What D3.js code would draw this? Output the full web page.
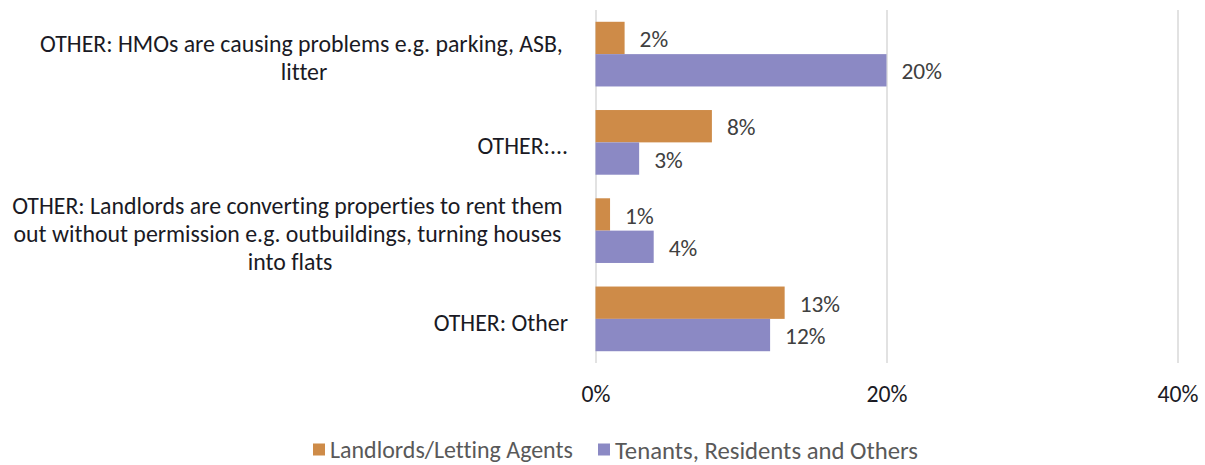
<!DOCTYPE html>
<html>
<head>
<meta charset="utf-8">
<script src="https://cdn.jsdelivr.net/npm/d3@7"></script>
<style>
  html, body { margin: 0; padding: 0; background: #ffffff; }
  svg { display: block; }
  text { font-family: Carlito, Calibri, Lato, "Open Sans", sans-serif; font-variant-ligatures: none; font-kerning: normal; }
</style>
</head>
<body>
<svg id="chart" width="1205" height="465"></svg>
<script>
// ---- data ----
const categories = [
  "OTHER: HMOs are causing problems e.g. parking, ASB, litter",
  "OTHER:...",
  "OTHER: Landlords are converting properties to rent them out without permission e.g. outbuildings, turning houses into flats",
  "OTHER: Other"
];
const categoryLines = [
  ["OTHER: HMOs are causing problems e.g. parking, ASB,", "litter"],
  ["OTHER:..."],
  ["OTHER: Landlords are converting properties to rent them", "out without permission e.g. outbuildings, turning houses", "into flats"],
  ["OTHER: Other"]
];
const seriesNames = ["Landlords/Letting Agents", "Tenants, Residents and Others"];
const landlords = [2, 8, 1, 13];
const tenants = [20, 3, 4, 12];
const xTicks = [0, 20, 40];
const colors = ["#CE8B48", "#8B89C4"];

// ---- layout ----
const svg = d3.select("#chart");
const plot = { left: 595.5, right: 1177.5, top: 10, bottom: 363 };

const x = d3.scaleLinear().domain([0, 40]).range([plot.left, plot.right]);
const y = d3.scaleBand().domain(categories).range([plot.top, plot.bottom])
  .paddingInner(0.267).paddingOuter(0.1335);
const ySub = d3.scaleBand().domain([0, 1]).range([0, y.bandwidth()]);

function measure(str, size) {
  const t = svg.append("text").attr("font-size", size).text(str);
  const w = t.node().getComputedTextLength();
  t.remove();
  return w;
}
function fitSize(str, target) {
  return 100 * target / measure(str, 100);
}
const catSize = fitSize(categoryLines[0][0], 523);
const dataSize = fitSize("20%", 40.4);
const axisSize = fitSize("20%", 41);
const legendSizes = [fitSize(seriesNames[0], 243), fitSize(seriesNames[1], 303)];

// gridlines
const grid = svg.append("g")
  .attr("transform", `translate(0,${plot.bottom})`)
  .call(d3.axisBottom(x).tickValues(xTicks).tickSize(-(plot.bottom - plot.top)).tickFormat(""));
grid.select(".domain").remove();
grid.selectAll("line").attr("stroke", "#D9D9D9").attr("stroke-width", 1.5);

// axis labels
const axis = svg.append("g")
  .attr("transform", `translate(0,${plot.bottom})`)
  .call(d3.axisBottom(x).tickValues(xTicks).tickSize(0).tickPadding(0).tickFormat(d => d + "%"));
axis.select(".domain").remove();
axis.selectAll("text")
  .attr("font-size", axisSize)
  .attr("fill", "#1A1A24")
  .attr("y", 31)
  .attr("dy", "0.35em")
  .style("font-family", null);

// bars
const seriesData = [landlords, tenants];
seriesData.forEach((vals, si) => {
  const g = svg.append("g");
  g.selectAll("rect").data(vals).join("rect")
    .attr("x", x(0))
    .attr("y", (d, i) => y(categories[i]) + ySub(si))
    .attr("width", d => x(d) - x(0))
    .attr("height", ySub.bandwidth())
    .attr("fill", colors[si]);
  g.selectAll("text").data(vals).join("text")
    .attr("x", d => x(d) + 15)
    .attr("y", (d, i) => y(categories[i]) + ySub(si) + ySub.bandwidth() / 2 + 1)
    .attr("dy", "0.35em")
    .attr("font-size", dataSize)
    .attr("fill", "#404040")
    .text(d => d + "%");
});

// category labels (wrapped lines keep a trailing space, as in the original)
const labelRight = 568;
const lineH = 28;
const spaceW = measure("a a", catSize) - measure("aa", catSize);
categoryLines.forEach((lines, ci) => {
  const cy = y(categories[ci]) + y.bandwidth() / 2 + 3.5;
  const g = svg.append("g");
  const items = lines.map((ln, li) => {
    const trail = li < lines.length - 1 ? spaceW : 0;
    const t = g.append("text")
      .attr("font-size", catSize)
      .attr("fill", "#1A1A24")
      .attr("dy", "0.35em")
      .attr("y", cy + (li - (lines.length - 1) / 2) * lineH)
      .attr("text-anchor", "middle")
      .text(ln);
    return { t, w: t.node().getComputedTextLength() + trail, trail };
  });
  const maxW = d3.max(items, d => d.w);
  items.forEach(d => d.t.attr("x", labelRight - maxW / 2 - d.trail / 2));
});

// legend
const legendY = 450;
const legendX = [313, 598];
const legend = svg.append("g");
seriesNames.forEach((name, i) => {
  legend.append("rect").attr("x", legendX[i]).attr("y", legendY - 6.5).attr("width", 12).attr("height", 12).attr("fill", colors[i]);
  legend.append("text").attr("x", legendX[i] + 17).attr("y", legendY).attr("dy", "0.35em")
    .attr("font-size", legendSizes[i]).attr("fill", "#595959").text(name);
});
</script>
</body>
</html>
